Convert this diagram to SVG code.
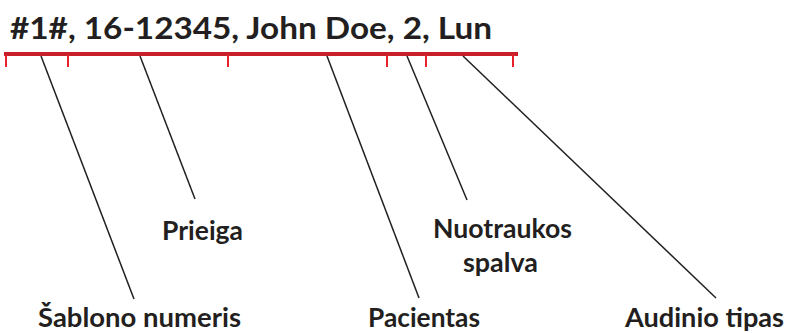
<svg xmlns="http://www.w3.org/2000/svg" width="787" height="333" viewBox="0 0 787 333">
<style>
.t{font-family:Lato,"Open Sans","Liberation Sans",Arial,sans-serif;font-weight:bold;fill:#231f20}
.lbl{font-size:26px}
.ld{stroke:#231f20;stroke-width:1.5;fill:none}
.tick{stroke:#e8222b;stroke-width:2}
</style>
<rect width="787" height="333" fill="#fff"/>
<g id="title">
<text class="t" x="10" y="39" font-size="31" textLength="482" lengthAdjust="spacingAndGlyphs">#1#, 16-12345, John Doe, 2, Lun</text>
</g>
<g id="ruler">
<rect x="4" y="52" width="514" height="4" fill="#c8202a"/>
<line class="tick" x1="6" y1="55" x2="6" y2="67"/>
<line class="tick" x1="68" y1="55" x2="68" y2="67"/>
<line class="tick" x1="228" y1="55" x2="228" y2="67"/>
<line class="tick" x1="387" y1="55" x2="387" y2="67"/>
<line class="tick" x1="426" y1="55" x2="426" y2="67"/>
<line class="tick" x1="513" y1="55" x2="513" y2="67"/>
</g>
<g id="connectors">
<line class="ld" x1="41" y1="56" x2="134" y2="299"/>
<line class="ld" x1="140" y1="56" x2="195" y2="199"/>
<line class="ld" x1="327" y1="56" x2="419" y2="298"/>
<line class="ld" x1="407" y1="56" x2="467" y2="200"/>
<line class="ld" x1="463" y1="56" x2="716" y2="298"/>
</g>
<g id="sablono"><text class="t lbl" x="38" y="327" textLength="203" lengthAdjust="spacingAndGlyphs">Šablono numeris</text></g>
<g id="prieiga"><text class="t lbl" x="162" y="240" textLength="81" lengthAdjust="spacingAndGlyphs">Prieiga</text></g>
<g id="pacientas"><text class="t lbl" x="368" y="327" textLength="112" lengthAdjust="spacingAndGlyphs">Pacientas</text></g>
<g id="nuotraukos"><text class="t lbl" x="433" y="238" textLength="139" lengthAdjust="spacingAndGlyphs">Nuotraukos</text><text class="t lbl" x="463" y="272" textLength="75" lengthAdjust="spacingAndGlyphs">spalva</text></g>
<g id="audinio"><text class="t lbl" x="625" y="327" textLength="159" lengthAdjust="spacingAndGlyphs">Audinio tipas</text></g>
</svg>
